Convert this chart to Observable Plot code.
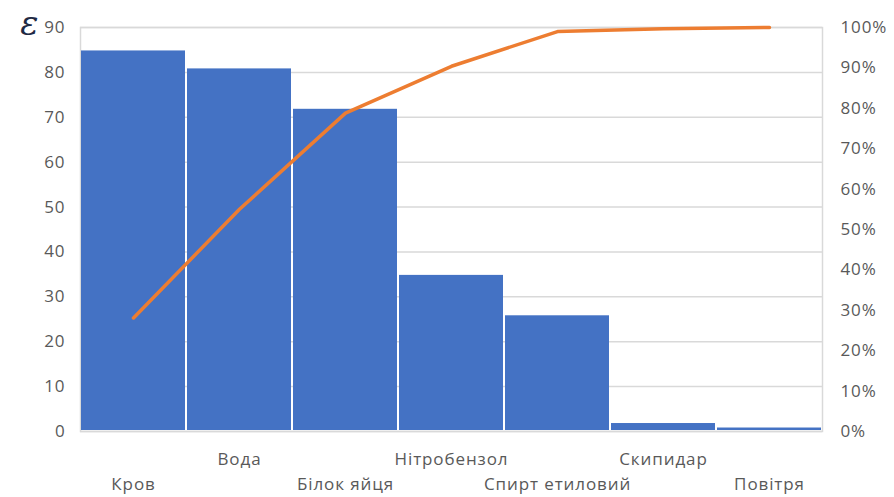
<!DOCTYPE html>
<html>
<head>
<meta charset="utf-8">
<script src="https://cdn.jsdelivr.net/npm/d3@7"></script>
<script src="https://cdn.jsdelivr.net/npm/@observablehq/plot@0.6"></script>
<style>
  html, body { margin: 0; padding: 0; background: #ffffff; }
</style>
</head>
<body>
<div id="chart"></div>
<script>
const categories = ["Кров", "Вода", "Білок яйця", "Нітробензол", "Спирт етиловий", "Скипидар", "Повітря"];
const values = [85, 81, 72, 35, 26, 2, 1];
const cumulativePct = [28.1, 55.0, 78.8, 90.4, 99.0, 99.7, 100];
const leftTicks = [0, 10, 20, 30, 40, 50, 60, 70, 80, 90];
const rightTicksPct = [0, 10, 20, 30, 40, 50, 60, 70, 80, 90, 100];
const leftMax = 90; // left axis value that corresponds to 100% on the right axis

const data = categories.map((c, i) => ({category: c, value: values[i], cum: cumulativePct[i]}));
const toLeft = p => p / 100 * leftMax;
const upperLabels = categories.filter((c, i) => i % 2 === 1);
const lowerLabels = categories.filter((c, i) => i % 2 === 0);

const chart = Plot.plot({
  width: 894,
  height: 497,
  marginTop: 27,
  marginBottom: 66,
  marginLeft: 80,
  marginRight: 72,
  x: {domain: categories, padding: 0, axis: null},
  y: {domain: [0, leftMax], axis: null},
  style: {fontFamily: "'Open Sans', sans-serif", fontSize: "17px", color: "#595959", background: "#ffffff", letterSpacing: "0.9px"},
  marks: [
    Plot.frame({stroke: "#d9d9d9", strokeWidth: 1.5}),
    Plot.gridY(leftTicks, {stroke: "#d9d9d9", strokeOpacity: 1, strokeWidth: 1.5}),
    Plot.barY(data, {x: "category", y: "value", fill: "#4472C4", inset: 1}),
    Plot.line(data, {x: "category", y: d => toLeft(d.cum), stroke: "#ED7D31", strokeWidth: 3.5, strokeLinecap: "round", strokeLinejoin: "round"}),
    Plot.axisY(leftTicks, {anchor: "left", label: null, tickSize: 0, tickPadding: 15, fontSize: 17, fill: "#595959"}),
    Plot.axisY(rightTicksPct.map(toLeft), {anchor: "right", label: null, tickSize: 0, tickPadding: 18, fontSize: 17, fill: "#595959",
      tickFormat: d => Math.round(d / leftMax * 100) + "%"}),
    Plot.axisX(upperLabels, {anchor: "bottom", label: null, tickSize: 0, tickPadding: 21, fontSize: 17, fill: "#595959"}),
    Plot.axisX(lowerLabels, {anchor: "bottom", label: null, tickSize: 0, tickPadding: 46, fontSize: 17, fill: "#595959"}),
    Plot.text(["ε"], {frameAnchor: "top-left", dx: -41, dy: -17, textAnchor: "end", fontSize: 34, fontFamily: "'DejaVu Serif', serif", fontStyle: "italic", fill: "#1f2a44"})
  ]
});
document.getElementById("chart").appendChild(chart);
</script>
</body>
</html>
